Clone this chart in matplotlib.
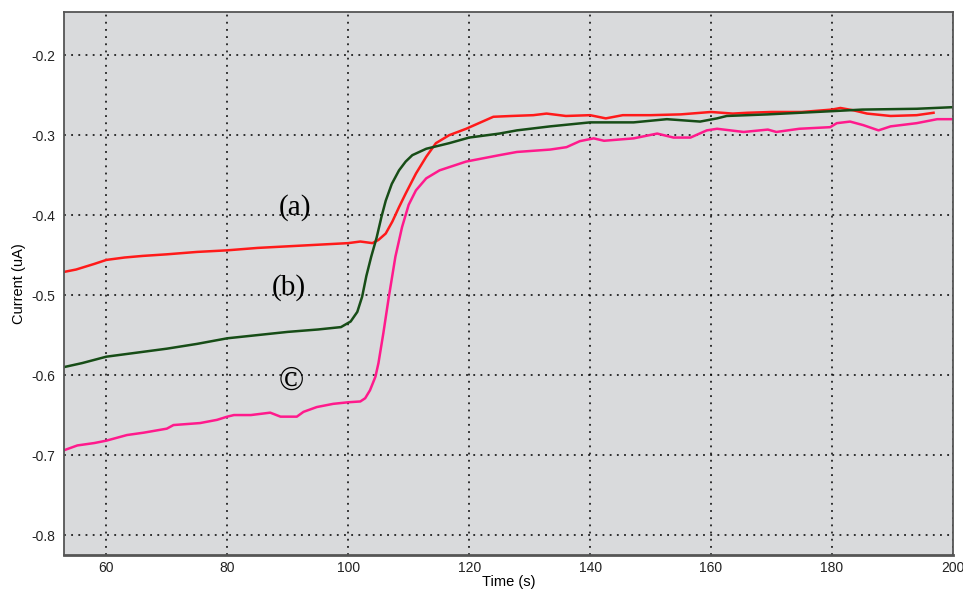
import matplotlib
matplotlib.use("Agg")
import matplotlib.pyplot as plt

# (a) red trace
t_a = [53, 55, 58, 60, 63, 66, 70, 75, 80, 85, 90, 95, 100, 102, 104, 105, 106.2,
       107.3, 108.4, 109.5, 111.2, 112.9, 114.5, 116.7, 119.5, 122.8, 124, 127,
       130.6, 132.8, 136, 140, 142.6, 145.4, 150, 155, 160, 163.6, 166, 170,
       175, 180, 181.4, 183.6, 185.8, 189.7, 194, 196.8]
i_a = [-0.471, -0.468, -0.461, -0.456, -0.453, -0.451, -0.449, -0.446, -0.444,
       -0.441, -0.439, -0.437, -0.435, -0.433, -0.435, -0.431, -0.423, -0.408,
       -0.390, -0.373, -0.348, -0.327, -0.310, -0.300, -0.292, -0.281, -0.277,
       -0.276, -0.275, -0.273, -0.276, -0.275, -0.279, -0.275, -0.275, -0.274,
       -0.271, -0.273, -0.272, -0.271, -0.271, -0.268, -0.266, -0.269, -0.273,
       -0.276, -0.275, -0.272]

# (b) green trace
t_b = [53, 56, 60, 65, 70, 75, 80, 85, 90, 95, 98.8, 100.4, 101.5, 102.3, 103,
       103.8, 104.7, 105.5, 106.2, 107.2, 108.4, 109.5, 110.6, 112.9, 116.7,
       120, 125, 127.9, 133.4, 140, 147.2, 152.7, 158.2, 161, 162.6, 169.4,
       180, 185, 194, 200]
i_b = [-0.590, -0.585, -0.577, -0.572, -0.567, -0.561, -0.554, -0.550, -0.546,
       -0.543, -0.540, -0.533, -0.521, -0.502, -0.476, -0.452, -0.428, -0.402,
       -0.382, -0.361, -0.344, -0.333, -0.325, -0.317, -0.310, -0.303, -0.298,
       -0.294, -0.289, -0.284, -0.284, -0.280, -0.283, -0.279, -0.276, -0.274,
       -0.270, -0.268, -0.267, -0.265]

# (c) pink trace
t_c = [53, 55.2, 58, 60, 63.4, 66.2, 70, 71.1, 75.5, 78.3, 80, 81.1, 83.9, 87.1,
       88.8, 91.5, 92.6, 94.8, 97.5, 100, 102, 102.8, 103.6, 104.5, 105, 105.8,
       106.7, 107.8, 108.9, 110, 111.2, 112.9, 115.1, 119.5, 125, 127.9, 133.4,
       136.1, 138.3, 140.6, 142.3, 147.2, 151.1, 153.8, 156.6, 159.3, 161,
       165.4, 169.4, 170.8, 174.6, 179.7, 180.8, 183, 185.2, 187.7, 189.7, 194,
       197.4, 200]
i_c = [-0.694, -0.688, -0.685, -0.682, -0.675, -0.672, -0.667, -0.6625, -0.660,
       -0.656, -0.652, -0.650, -0.650, -0.647, -0.652, -0.652, -0.646, -0.640,
       -0.636, -0.634, -0.633, -0.629, -0.619, -0.602, -0.585, -0.548, -0.503,
       -0.452, -0.415, -0.387, -0.369, -0.354, -0.344, -0.333, -0.325, -0.321,
       -0.318, -0.315, -0.3075, -0.304, -0.307, -0.304, -0.298, -0.303, -0.303,
       -0.294, -0.292, -0.296, -0.293, -0.296, -0.292, -0.290, -0.285, -0.283,
       -0.2875, -0.294, -0.289, -0.285, -0.280, -0.280]

labels = ["(a)", "(b)", "\u00a9"]
label_pos = [(91.2, -0.391), (90.2, -0.491), (90.6, -0.6075)]
label_size = [21, 21, 24]

fig = plt.figure(figsize=(9.63, 5.92), dpi=100)
ax = fig.add_axes([0.0665, 0.0625, 0.923, 0.9172])
ax.set_facecolor("#d9dadc")

ax.plot(t_a, i_a, color="#ff1a1a", lw=1.8)
ax.plot(t_b, i_b, color="#174d17", lw=1.8)
ax.plot(t_c, i_c, color="#ff1a8c", lw=1.8)

for txt, (x, y), fs in zip(labels, label_pos, label_size):
    ax.text(x, y, txt, fontsize=fs, family="Liberation Serif",
            ha="center", va="center", color="black")

ax.set_xlim(53, 200)
ax.set_ylim(-0.825, -0.146)
ax.set_xticks([60, 80, 100, 120, 140, 160, 180, 200])
ax.set_yticks([-0.8, -0.7, -0.6, -0.5, -0.4, -0.3, -0.2])
ax.set_yticklabels(["-0.8", "-0.7", "-0.6", "-0.5", "-0.4", "-0.3", "-0.2"])
ax.tick_params(axis="y", length=0, labelsize=10, pad=6)
ax.tick_params(axis="x", length=0, labelsize=10, pad=4)
for lab in ax.get_xticklabels() + ax.get_yticklabels():
    lab.set_family("Liberation Sans")
    lab.set_color("#222222")

ax.grid(True, color="black", linestyle=(0, (1.2, 3.5)), lw=1.1)
for side in ["left", "bottom", "top", "right"]:
    ax.spines[side].set_color("#555555")
    ax.spines[side].set_linewidth(1.3)
ax.spines["bottom"].set_linewidth(2)

ax.set_xlabel("Time (s)", fontsize=10.5, family="Liberation Sans", labelpad=0)
ax.set_ylabel("Current (uA)", fontsize=10.5, family="Liberation Sans", labelpad=4)

fig.savefig("out.png", dpi=100)
